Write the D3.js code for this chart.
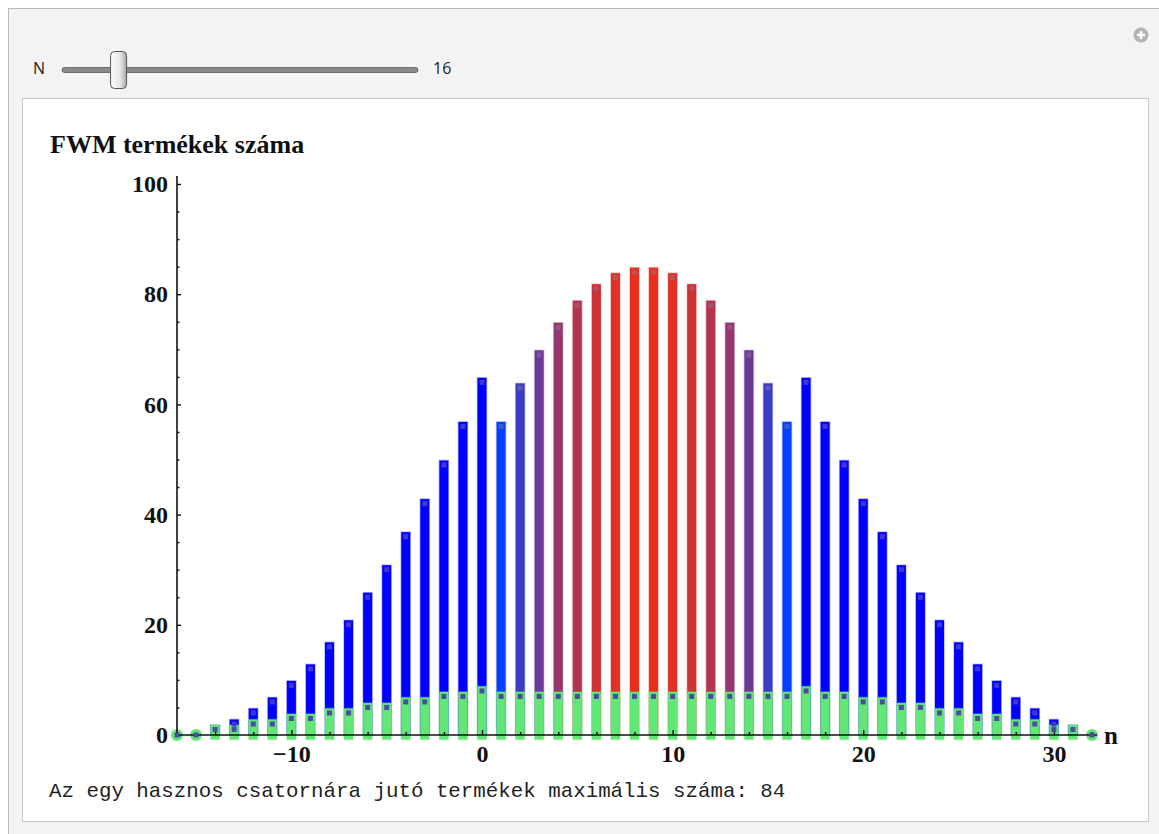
<!DOCTYPE html>
<html>
<head>
<meta charset="utf-8">
<script src="https://cdn.jsdelivr.net/npm/d3@7"></script>
<style>
  body { margin: 0; background: #fff; }
  svg { display: block; }
</style>
</head>
<body>
<div id="chart"></div>
<script>
// n positions, FWM products per position (all / degenerate), useful channels
var positions = d3.range(-16, 33);
var totalProducts = [0, 0, 1, 2, 4, 6, 9, 12, 16, 20, 25, 30, 36, 42, 49, 56, 64,
  56, 63, 69, 74, 78, 81, 83, 84, 84, 83, 81, 78, 74, 69, 63, 56,
  64, 56, 49, 42, 36, 30, 25, 20, 16, 12, 9, 6, 4, 2, 1, 0];
var degenerateProducts = [0, 0, 1, 1, 2, 2, 3, 3, 4, 4, 5, 5, 6, 6, 7, 7, 8,
  7, 7, 7, 7, 7, 7, 7, 7, 7, 7, 7, 7, 7, 7, 7, 7,
  8, 7, 7, 6, 6, 5, 5, 4, 4, 3, 3, 2, 2, 1, 1, 0];
var channels = d3.range(1, 17);
var xTickValues = [-10, 0, 10, 20, 30];
var yTickValues = [0, 20, 40, 60, 80, 100];
var sliderLabel = "N", sliderValue = 16, sliderMin = 2, sliderMax = 100;
var titleText = "FWM termékek száma";
var maxText = "Az egy hasznos csatornára jutó termékek maximális száma: 84";

(function() {
  var W = 1159, H = 834;

  var svg = d3.select("#chart")
    .append("svg")
    .attr("width", W)
    .attr("height", H);

  // panels
  svg.append("rect").attr("x", 8.5).attr("y", 8.5).attr("width", W).attr("height", H)
    .attr("fill", "#f3f3f3").attr("stroke", "#b9b9b9");
  svg.append("rect").attr("x", 22.5).attr("y", 98.5).attr("width", 1126).attr("height", 723)
    .attr("fill", "#fff").attr("stroke", "#c8c8c8");

  // plus icon
  svg.append("circle").attr("cx", 1141).attr("cy", 35).attr("r", 7.5).attr("fill", "#b4b4b4");
  svg.append("path").attr("d", "M1137,35H1145M1141,31V39").attr("stroke", "#fff").attr("stroke-width", 2.4);

  // slider
  var sliderScale = d3.scaleLinear().domain([sliderMin, sliderMax]).range([70, 410]);
  svg.append("text").attr("x", 33).attr("y", 74).text(sliderLabel)
    .attr("font-family", "Open Sans, sans-serif").attr("font-size", 16).attr("fill", "#222");
  svg.append("rect").attr("x", 62).attr("y", 67.5).attr("width", 356).attr("height", 5).attr("rx", 2.5)
    .attr("fill", "#8a8a8a").attr("stroke", "#5a5a5a").attr("stroke-width", 0.8);
  var grad = svg.append("defs").append("linearGradient").attr("id", "thumb")
    .attr("x1", 0).attr("x2", 1).attr("y1", 0).attr("y2", 0);
  grad.append("stop").attr("offset", "0%").attr("stop-color", "#fdfdfd");
  grad.append("stop").attr("offset", "60%").attr("stop-color", "#e6e6e6");
  grad.append("stop").attr("offset", "100%").attr("stop-color", "#a8a8a8");
  svg.append("rect").attr("x", sliderScale(sliderValue) - 8).attr("y", 51.5).attr("width", 16).attr("height", 37)
    .attr("rx", 4).attr("fill", "url(#thumb)").attr("stroke", "#555").attr("stroke-width", 1);
  svg.append("text").attr("x", 433).attr("y", 74).text(sliderValue)
    .attr("font-family", "Open Sans, sans-serif").attr("font-size", 16).attr("fill", "#222");

  // plot
  var x = d3.scaleLinear().domain([-16, 32]).range([177, 1092]);
  var y = d3.scaleLinear().domain([0, 100]).range([735, 184]);

  var chTotals = channels.map(function(c) { return totalProducts[positions.indexOf(c)]; });
  var chColor = d3.scaleLinear()
    .domain([d3.min(chTotals), d3.max(chTotals)])
    .range(["#0040ff", "#e8301c"])
    .interpolate(d3.interpolateRgb);

  var data = positions.map(function(n, i) {
    var isCh = channels.indexOf(n) >= 0;
    return { n: n, total: totalProducts[i], degen: degenerateProducts[i],
      color: isCh ? chColor(totalProducts[i]) : "#0000ff" };
  });

  var bw = 9, cap = 4.5;
  var g = svg.append("g");

  g.selectAll(".bar-total")
    .data(data.filter(function(d) { return d.total > 0; }))
    .enter().append("rect")
    .attr("x", function(d) { return x(d.n) - bw / 2; })
    .attr("y", function(d) { return y(d.total) - cap; })
    .attr("width", bw)
    .attr("height", function(d) { return y(0) - y(d.total) + cap; })
    .attr("fill", function(d) { return d.color; })
    .attr("stroke", function(d) { return d.color; })
    .attr("stroke-opacity", 0.3)
    .attr("stroke-width", 1.5);

  var green = "#62e676";
  g.selectAll(".bar-degen")
    .data(data.filter(function(d) { return d.degen > 0; }))
    .enter().append("rect")
    .attr("x", function(d) { return x(d.n) - bw / 2; })
    .attr("y", function(d) { return y(d.degen) - cap; })
    .attr("width", bw)
    .attr("height", function(d) { return y(0) - y(d.degen) + 2 * cap; })
    .attr("fill", green)
    .attr("stroke", green)
    .attr("stroke-opacity", 0.35)
    .attr("stroke-width", 1.5);

  g.selectAll(".zero")
    .data(data.filter(function(d) { return d.degen === 0; }))
    .enter().append("circle")
    .attr("cx", function(d) { return x(d.n); })
    .attr("cy", y(0))
    .attr("r", 6)
    .attr("fill", green);

  // axes
  var serif = "Liberation Serif, Times New Roman, serif";
  var xAxis = svg.append("g").attr("transform", "translate(0," + y(0) + ")")
    .call(d3.axisBottom(x).tickValues(xTickValues).tickSize(-5).tickPadding(10).tickSizeOuter(0));
  svg.append("g").attr("transform", "translate(0," + y(0) + ")")
    .call(d3.axisBottom(x).tickValues(d3.range(-16, 33, 2).filter(function(v) { return v % 10 !== 0; }))
      .tickSize(-3).tickFormat("").tickSizeOuter(0))
    .select(".domain").remove();
  xAxis.select(".domain").attr("d", "M177,0H1097");

  var yAxis = svg.append("g").attr("transform", "translate(" + x(-16) + ",0)")
    .call(d3.axisLeft(y).tickValues(yTickValues).tickSize(-4).tickPadding(9).tickSizeOuter(0));
  svg.append("g").attr("transform", "translate(" + x(-16) + ",0)")
    .call(d3.axisLeft(y).tickValues(d3.range(5, 100, 5).filter(function(v) { return v % 20 !== 0; }))
      .tickSize(-2.5).tickFormat("").tickSizeOuter(0))
    .select(".domain").remove();
  yAxis.select(".domain").attr("d", "M0,735V176");

  svg.selectAll(".domain").attr("stroke", "#111").attr("stroke-width", 1.6);
  svg.selectAll(".tick line").attr("stroke", "#111").attr("stroke-width", 1.4);
  svg.selectAll(".tick text")
    .attr("font-family", serif).attr("font-weight", "bold").attr("font-size", 24).attr("fill", "#111");

  svg.append("text").attr("x", 1104).attr("y", 744).text("n")
    .attr("font-family", serif).attr("font-weight", "bold").attr("font-size", 25).attr("fill", "#111");
  svg.append("text").attr("x", 50).attr("y", 153).text(titleText)
    .attr("font-family", serif).attr("font-weight", "bold").attr("font-size", 26).attr("fill", "#111");

  // point markers
  var ms = 5;
  g = svg.append("g");
  g.selectAll(".mk-total")
    .data(data.filter(function(d) { return d.total > d.degen; }))
    .enter().append("rect")
    .attr("x", function(d) { return x(d.n) - ms / 2; })
    .attr("y", function(d) { return y(d.total) - ms / 2; })
    .attr("width", ms).attr("height", ms)
    .attr("fill", function(d) { return d3.interpolateRgb(d.color, "#8a7a9a")(0.45); });
  g.selectAll(".mk-degen")
    .data(data)
    .enter().append("rect")
    .attr("x", function(d) { return x(d.n) - ms / 2; })
    .attr("y", function(d) { return y(d.degen) - ms / 2; })
    .attr("width", ms).attr("height", ms)
    .attr("fill", "#4b4ba0");

  svg.append("text").attr("x", 49).attr("y", 797).text(maxText)
    .attr("font-family", "Liberation Mono, Courier New, monospace").attr("font-size", 20.8).attr("fill", "#222");
})();
</script>
</body>
</html>
